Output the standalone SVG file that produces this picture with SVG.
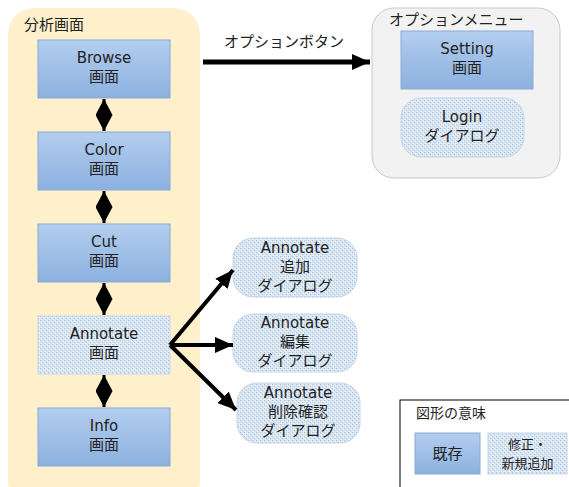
<svg xmlns="http://www.w3.org/2000/svg" width="569" height="487" viewBox="0 0 569 487">
<style>
.lat{font-family:"DejaVu Sans","Noto Sans CJK JP",sans-serif;font-size:15px;fill:#222;text-anchor:middle}
.jp{font-family:"Noto Sans CJK JP","DejaVu Sans",sans-serif;font-size:15px;fill:#222}
.exist{fill:url(#blue);stroke:#8aaad6;stroke-width:1}
.mod{fill:url(#dots);stroke:#c4d6ea;stroke-width:1}
.conn{stroke:#000;fill:none}
</style>
<defs>
<linearGradient id="blue" x1="0" y1="0" x2="0" y2="1">
<stop offset="0" stop-color="#b3cdee"/>
<stop offset="1" stop-color="#8cb1df"/>
</linearGradient>
<pattern id="dots" width="4" height="4" patternUnits="userSpaceOnUse">
<rect width="4" height="4" fill="#d8e5f2"/>
<rect x="0" y="0" width="1" height="1" fill="#a3bddc"/>
<rect x="2" y="2" width="1" height="1" fill="#a3bddc"/>
<rect x="1" y="3" width="1" height="1" fill="#ffffff"/>
<rect x="3" y="1" width="1" height="1" fill="#ffffff"/>
</pattern>
<marker id="dh" markerUnits="userSpaceOnUse" markerWidth="16" markerHeight="17" refX="16" refY="8.5" orient="auto-start-reverse" viewBox="0 0 16 17">
<path d="M0,0 L16,8.5 L0,17 z" fill="#000"/>
</marker>
<marker id="ah" markerUnits="userSpaceOnUse" markerWidth="18" markerHeight="16" refX="18" refY="8" orient="auto" viewBox="0 0 18 16">
<path d="M0,0 L18,8 L0,16 z" fill="#000"/>
</marker>
</defs>
<rect width="569" height="487" fill="#fff"/>

<g id="analysis">
<rect x="8" y="8" width="192" height="500" rx="26" fill="#fdf0cb"/>
<text class="jp" x="24" y="30">分析画面</text>
</g>

<g id="optmenu">
<rect x="372" y="8" width="188" height="170" rx="22" fill="#f2f2f2" stroke="#c8c8c8" stroke-width="1"/>
<text class="jp" x="389" y="25">オプションメニュー</text>
</g>

<g id="browse">
<rect class="exist" x="38" y="40" width="132" height="58"/>
<text class="lat" x="104" y="63">Browse</text>
<text class="lat" x="104" y="82">画面</text>
</g>
<g id="color">
<rect class="exist" x="38" y="132" width="132" height="58"/>
<text class="lat" x="104" y="155">Color</text>
<text class="lat" x="104" y="174">画面</text>
</g>
<g id="cut">
<rect class="exist" x="38" y="224" width="132" height="58"/>
<text class="lat" x="104" y="247">Cut</text>
<text class="lat" x="104" y="266">画面</text>
</g>
<g id="annotate">
<rect class="mod" x="38" y="316" width="132" height="58"/>
<text class="lat" x="104" y="339">Annotate</text>
<text class="lat" x="104" y="358">画面</text>
</g>
<g id="info">
<rect class="exist" x="38" y="408" width="132" height="58"/>
<text class="lat" x="104" y="431">Info</text>
<text class="lat" x="104" y="450">画面</text>
</g>

<g id="setting">
<rect class="exist" x="401" y="31" width="132" height="58"/>
<text class="lat" x="467" y="54">Setting</text>
<text class="lat" x="467" y="73">画面</text>
</g>
<g id="login">
<rect class="mod" x="401" y="98" width="123" height="59" rx="20"/>
<text class="lat" x="462" y="122">Login</text>
<text class="lat" x="462" y="141">ダイアログ</text>
</g>

<g id="ann-add">
<rect class="mod" x="233" y="238" width="124" height="59" rx="20"/>
<text class="lat" x="295" y="253">Annotate</text>
<text class="lat" x="295" y="272">追加</text>
<text class="lat" x="295" y="291">ダイアログ</text>
</g>
<g id="ann-edit">
<rect class="mod" x="233" y="314" width="124" height="58" rx="20"/>
<text class="lat" x="295" y="328">Annotate</text>
<text class="lat" x="295" y="347">編集</text>
<text class="lat" x="295" y="366">ダイアログ</text>
</g>
<g id="ann-del">
<rect class="mod" x="237" y="383" width="123" height="60" rx="20"/>
<text class="lat" x="298" y="398">Annotate</text>
<text class="lat" x="298" y="417">削除確認</text>
<text class="lat" x="298" y="436">ダイアログ</text>
</g>

<g id="legend">
<rect x="400" y="400" width="180" height="100" fill="#fff" stroke="#000" stroke-width="1"/>
<text class="jp" x="416" y="418" style="font-size:14px">図形の意味</text>
<rect class="exist" x="415" y="433" width="65" height="41"/>
<text class="jp" x="447.5" y="459" style="font-size:15px;text-anchor:middle">既存</text>
<rect class="mod" x="488" y="433" width="79" height="41"/>
<text class="jp" x="527.5" y="449" style="font-size:13px;text-anchor:middle">修正・</text>
<text class="jp" x="527.5" y="468" style="font-size:13px;text-anchor:middle">新規追加</text>
</g>

<g id="connectors">
<line class="conn" x1="104" y1="99" x2="104" y2="131" stroke-width="3" marker-start="url(#dh)" marker-end="url(#dh)"/>
<line class="conn" x1="104" y1="191" x2="104" y2="223" stroke-width="3" marker-start="url(#dh)" marker-end="url(#dh)"/>
<line class="conn" x1="104" y1="283" x2="104" y2="315" stroke-width="3" marker-start="url(#dh)" marker-end="url(#dh)"/>
<line class="conn" x1="104" y1="375" x2="104" y2="407" stroke-width="3" marker-start="url(#dh)" marker-end="url(#dh)"/>
<line class="conn" x1="203" y1="62" x2="370" y2="62" stroke-width="5" marker-end="url(#ah)"/>
<text class="jp" x="284" y="47" style="text-anchor:middle">オプションボタン</text>
<line class="conn" x1="170" y1="345" x2="233" y2="270" stroke-width="4" marker-end="url(#ah)"/>
<line class="conn" x1="170" y1="345" x2="233" y2="345" stroke-width="4" marker-end="url(#ah)"/>
<line class="conn" x1="170" y1="345" x2="236" y2="410" stroke-width="4" marker-end="url(#ah)"/>
</g>
</svg>
